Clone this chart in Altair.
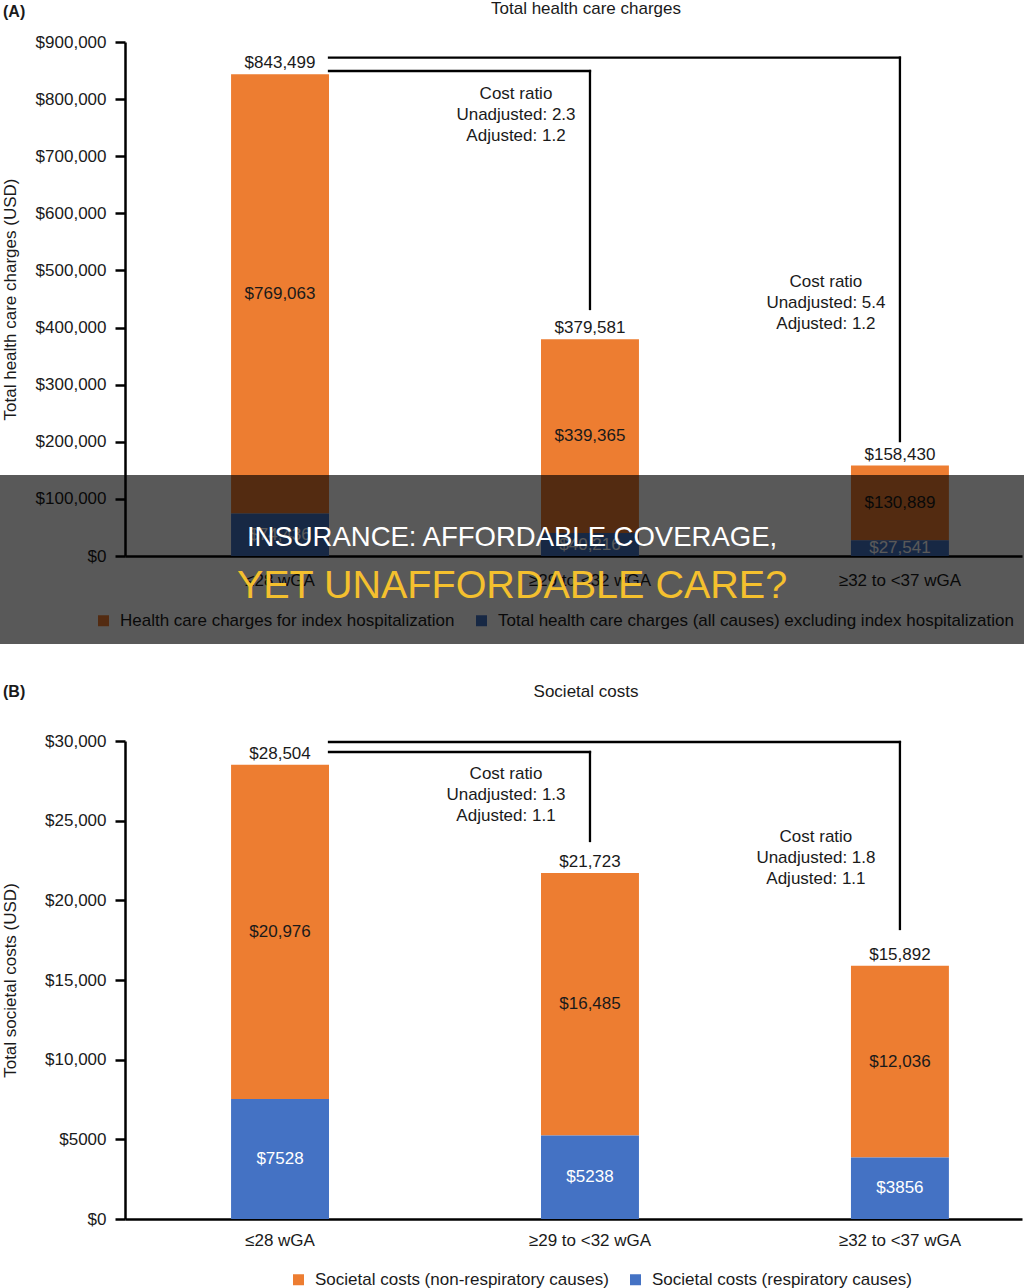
import altair as alt
import pandas as pd

# ---------------- data ----------------
CATEGORIES = ["≤28 wGA", "≥29 to <32 wGA", "≥32 to <37 wGA"]

A_LETTER = "(A)"
A_TITLE = "Total health care charges"
A_YTITLE = "Total health care charges (USD)"
A_SERIES = ["Health care charges for index hospitalization",
            "Total health care charges (all causes) excluding index hospitalization"]
A_TOTAL = [843499, 379581, 158430]
A_INDEX = [769063, 339365, 130889]
A_OTHER = [74436, 40216, 27541]
A_TICKS = [0, 100000, 200000, 300000, 400000, 500000, 600000, 700000, 800000, 900000]
A_RATIO_UNADJ = ["2.3", "5.4"]
A_RATIO_ADJ = ["1.2", "1.2"]
A_BRACKET_TOP = [849200, 872500]
A_BRACKET_END = [432500, 201400]
A_NOTE_Y = [809000, 480000]

B_LETTER = "(B)"
B_TITLE = "Societal costs"
B_YTITLE = "Total societal costs (USD)"
B_SERIES = ["Societal costs (non-respiratory causes)",
            "Societal costs (respiratory causes)"]
B_TOTAL = [28504, 21723, 15892]
B_NONRESP = [20976, 16485, 12036]
B_RESP = [7528, 5238, 3856]
B_TICKS = [0, 5000, 10000, 15000, 20000, 25000, 30000]
B_RATIO_UNADJ = ["1.3", "1.8"]
B_RATIO_ADJ = ["1.1", "1.1"]
B_BRACKET_TOP = [29310, 29937]
B_BRACKET_END = [23724, 18201]
B_NOTE_Y = [27930, 23975]

BANNER_LINES = ["INSURANCE: AFFORDABLE COVERAGE,", "YET UNAFFORDABLE CARE?"]

# ---------------- style ----------------
FONT = "Liberation Sans"
ORANGE = "#ED7D31"
BLUE = "#4472C4"
INK = "#1a1a1a"
W = 897
LABEL_EXPR = "datum.value >= 10000 ? format(datum.value, '$,') : '$' + datum.value"


def money(v):
    return f"${v:,}" if v >= 10000 else f"${v}"


def build_panel(letter, title, ytitle, series, top_vals, bottom_vals, totals, ymax,
                ticks, height, unadj, adj, br_top, br_end, note_y, note_dx,
                title_y, letter_y, xlab_pad, leg_x, leg_y, extra):
    xsc = alt.Scale(domain=CATEGORIES, paddingInner=0.684, paddingOuter=0.289, align=0.592)
    ysc = alt.Scale(domain=[0, ymax], nice=False, zero=True)
    xax = alt.Axis(title=None, labelAngle=0, ticks=False, tickSize=0, labelPadding=xlab_pad,
                   labelFontSize=17, labelColor=INK, labelFont=FONT,
                   domainColor="black", domainWidth=2.5)
    yax = alt.Axis(values=ticks, labelExpr=LABEL_EXPR, title=ytitle, titleX=-115,
                   titleBaseline="middle", titleFontSize=17, titleFontWeight="normal",
                   titleColor=INK, titleFont=FONT, labelFontSize=17, labelColor=INK,
                   labelFont=FONT, labelPadding=9, tickSize=10, tickWidth=2.5,
                   tickColor="black", domainColor="black", domainWidth=2.5, grid=False)

    def X(f, **kw):
        return alt.X(f, scale=xsc, axis=xax, **kw)

    def Y(f, **kw):
        return alt.Y(f, scale=ysc, axis=yax, **kw)

    bars_df = pd.DataFrame({
        "cat": CATEGORIES * 2,
        "series": [series[0]] * 3 + [series[1]] * 3,
        "value": list(top_vals) + list(bottom_vals),
        "ord": [1] * 3 + [0] * 3,
    })
    bars = alt.Chart(bars_df).mark_bar().encode(
        x=X("cat:N"),
        y=Y("value:Q", stack="zero"),
        color=alt.Color("series:N", scale=alt.Scale(domain=series, range=[ORANGE, BLUE]),
                        legend=alt.Legend(orient="none", legendX=leg_x, legendY=leg_y,
                                          direction="horizontal", title=None,
                                          symbolType="square", symbolSize=121,
                                          symbolStrokeWidth=0, labelFontSize=17,
                                          labelFont=FONT, labelColor=INK, labelOffset=8,
                                          columnPadding=18, padding=0, labelLimit=800)),
        order=alt.Order("ord:Q", sort="ascending"),
    )

    seg_df = pd.DataFrame({
        "cat": CATEGORIES * 2,
        "mid": [b + t / 2 for t, b in zip(top_vals, bottom_vals)] + [b / 2 for b in bottom_vals],
        "label": [money(t) for t in top_vals] + [money(b) for b in bottom_vals],
        "part": ["top"] * 3 + ["bottom"] * 3,
    })
    seg_enc = dict(x=X("cat:N"), y=Y("mid:Q"), text="label:N")
    seg_top = alt.Chart(seg_df).transform_filter("datum.part == 'top'").mark_text(
        fontSize=17, color=INK, baseline="middle", font=FONT).encode(**seg_enc)
    seg_bot = alt.Chart(seg_df).transform_filter("datum.part == 'bottom'").mark_text(
        fontSize=17, color="white", baseline="middle", font=FONT).encode(**seg_enc)

    tot_df = pd.DataFrame({"cat": CATEGORIES, "total": totals,
                           "label": [money(t) for t in totals]})
    tot = alt.Chart(tot_df).mark_text(fontSize=17, color=INK, baseline="alphabetic",
                                      dy=-6, font=FONT).encode(
        x=X("cat:N"), y=Y("total:Q"), text="label:N")

    br_df = pd.DataFrame({
        "from": [CATEGORIES[0]] * 2,
        "to": [CATEGORIES[1], CATEGORIES[2]],
        "ytop": br_top,
        "yend": br_end,
        "note": [f"Cost ratio\nUnadjusted: {u}\nAdjusted: {a}" for u, a in zip(unadj, adj)],
        "note_y": note_y,
    })
    br_h = alt.Chart(br_df).mark_rule(color="black", strokeWidth=2.3, strokeCap="square").encode(
        x=X("from:N", bandPosition=1),
        x2=alt.X2("to:N"),
        y=Y("ytop:Q"))
    br_v = alt.Chart(br_df).mark_rule(color="black", strokeWidth=2.3, strokeCap="square").encode(
        x=X("to:N"),
        y=Y("ytop:Q"),
        y2=alt.Y2("yend:Q"))
    notes = alt.Chart(br_df).mark_text(fontSize=17, color=INK, align="center",
                                       baseline="middle", lineBreak="\n", lineHeight=21,
                                       dx=note_dx, font=FONT).encode(
        x=X("to:N"), y=Y("note_y:Q"), text="note:N")

    head_df = pd.DataFrame({"letter": [letter], "title": [title]})
    letter_mark = alt.Chart(head_df).mark_text(align="left", baseline="middle", fontSize=16,
                                               fontWeight="bold", color=INK, font=FONT).encode(
        x=alt.value(-122), y=alt.value(letter_y), text="letter:N")
    title_mark = alt.Chart(head_df).mark_text(align="center", baseline="middle", fontSize=17,
                                              color=INK, font=FONT).encode(
        x=alt.value(461), y=alt.value(title_y), text="title:N")

    layers = [bars, seg_top, seg_bot, tot, br_h, br_v, notes, letter_mark, title_mark] + extra
    return alt.layer(*layers).properties(width=W, height=height)


# invisible element fixing the top edge of the figure
edge_df = pd.DataFrame({"k": [0]})
top_edge = alt.Chart(edge_df).mark_rect(opacity=0).encode(
    x=alt.value(0), x2=alt.value(1), y=alt.value(-41), y2=alt.value(-40))

# banner drawn over panel A (part of panel B's layer, drawn later)
banner_df = pd.DataFrame({"l1": [BANNER_LINES[0]], "l2": [BANNER_LINES[1]]})
banner_rect = alt.Chart(banner_df).mark_rect(color="black", opacity=0.65).encode(
    x=alt.value(-125), x2=alt.value(899), y=alt.value(-266), y2=alt.value(-97))
banner_t1 = alt.Chart(banner_df).mark_text(fontSize=27.5, color="white", align="center",
                                           baseline="middle", font=FONT).encode(
    x=alt.value(387), y=alt.value(-203), text="l1:N")
banner_t2 = alt.Chart(banner_df).mark_text(fontSize=39.5, color="#f4c02e", align="center",
                                           baseline="middle", font=FONT).encode(
    x=alt.value(387), y=alt.value(-155), text="l2:N")

panel_a = build_panel(A_LETTER, A_TITLE, A_YTITLE, A_SERIES, A_INDEX, A_OTHER, A_TOTAL,
                      900000, A_TICKS, 514, A_RATIO_UNADJ, A_RATIO_ADJ, A_BRACKET_TOP,
                      A_BRACKET_END, A_NOTE_Y, -74, -33, -30, 16, -30, 570, [top_edge])
panel_b = build_panel(B_LETTER, B_TITLE, B_YTITLE, B_SERIES, B_NONRESP, B_RESP, B_TOTAL,
                      30000, B_TICKS, 478, B_RATIO_UNADJ, B_RATIO_ADJ, B_BRACKET_TOP,
                      B_BRACKET_END, B_NOTE_Y, -84, -49, -49, 13, 165, 530,
                      [banner_rect, banner_t1, banner_t2])

chart = alt.vconcat(panel_a, panel_b, spacing=185, bounds="flush").resolve_scale(
    x="independent", y="independent", color="independent"
).properties(padding=0).configure(font=FONT).configure_view(strokeWidth=0)

chart.save("out.html", embed_options={"renderer": "svg", "actions": False})
